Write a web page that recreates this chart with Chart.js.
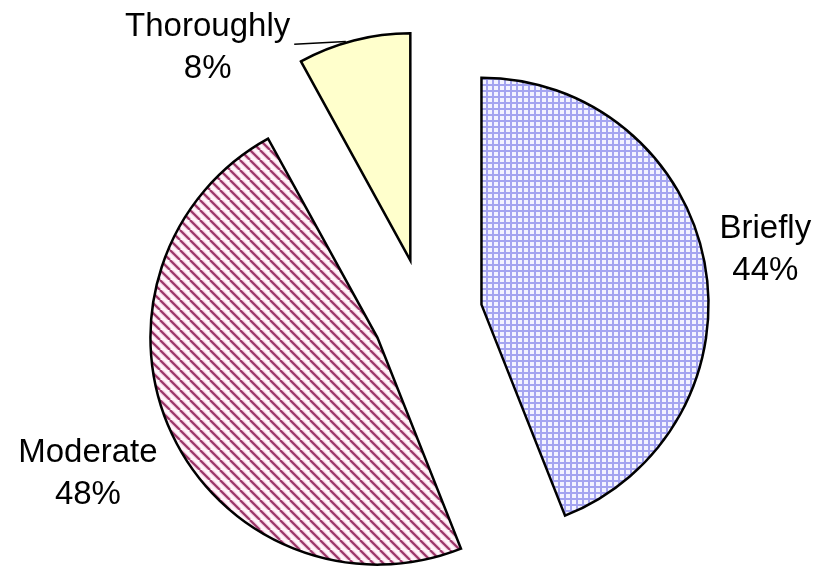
<!DOCTYPE html>
<html>
<head>
<meta charset="utf-8">
<script src="https://cdn.jsdelivr.net/npm/chart.js@4.4.1/dist/chart.umd.min.js"></script>
<style>
    html, body { margin: 0; padding: 0; background: #ffffff; }
    #wrap { position: relative; width: 817px; height: 566px; overflow: hidden; }
    #wrap canvas { position: absolute; left: 0; top: 0; }
</style>
</head>
<body>
<div id="wrap">
    <canvas id="pie0" width="817" height="566"></canvas>
    <canvas id="pie1" width="817" height="566"></canvas>
    <canvas id="pie2" width="817" height="566"></canvas>
</div>
<script>
// Pie data
const categories = ['Briefly', 'Moderate', 'Thoroughly'];
const shares = [44, 48, 8];

// Exploded layout: each slice gets its own canvas so it can be pulled out on its own
const W = 817, H = 566;
const PIE_X = 424.5, PIE_Y = 315.5;
const RADIUS = 227;
const explodePx = [58, 52, 57];
const labelGap = [62, 93, 29];                 // distance past the rim along the slice middle
const labelShift = [[0, -1], [0, 0], [-139, 36]];
const hasLeader = [false, false, true];
const FONT = '33px "Liberation Sans", Arial, sans-serif';
const LINE_H = 42;

// Fill patterns
function gridFill(ctx) {
    const t = document.createElement('canvas');
    t.width = t.height = 6;
    const g = t.getContext('2d');
    g.fillStyle = '#f3f3ff';
    g.fillRect(0, 0, 6, 6);
    g.fillStyle = '#a4a4f0';
    g.fillRect(0, 0, 6, 2);
    g.fillRect(0, 0, 2, 6);
    return ctx.createPattern(t, 'repeat');
}

function stripeFill(ctx) {
    const s = 10;
    const t = document.createElement('canvas');
    t.width = t.height = s;
    const g = t.getContext('2d');
    g.fillStyle = '#fff6fa';
    g.fillRect(0, 0, s, s);
    g.strokeStyle = '#f0c8dc';
    g.lineWidth = 4.2;
    g.beginPath();
    [-s, 0, s].forEach(k => { g.moveTo(k, 0); g.lineTo(k + s, s); });
    g.stroke();
    g.strokeStyle = '#993366';
    g.lineWidth = 2;
    g.stroke();
    return ctx.createPattern(t, 'repeat');
}

const fillMakers = [gridFill, stripeFill, () => '#ffffcc'];

// Draws the category name and percentage for one slice
function sliceLabel(i) {
    return {
        id: 'sliceLabel' + i,
        afterDatasetsDraw(chart) {
            const arc = chart.getDatasetMeta(0).data[i];
            const ctx = chart.ctx;
            const mid = (arc.startAngle + arc.endAngle) / 2;
            const dist = arc.outerRadius + labelGap[i];
            const x = arc.x + Math.cos(mid) * dist + labelShift[i][0];
            const y = arc.y + Math.sin(mid) * dist + labelShift[i][1];
            const line1 = categories[i];
            const line2 = shares[i] + '%';

            ctx.save();
            ctx.font = FONT;
            ctx.fillStyle = '#000000';
            ctx.textAlign = 'center';
            ctx.textBaseline = 'middle';
            ctx.fillText(line1, x, y - LINE_H / 2);
            ctx.fillText(line2, x, y + LINE_H / 2);

            if (hasLeader[i]) {
                const w = ctx.measureText(line1).width;
                const rimX = arc.x + Math.cos(mid) * arc.outerRadius;
                const rimY = arc.y + Math.sin(mid) * arc.outerRadius;
                ctx.strokeStyle = '#000000';
                ctx.lineWidth = 1.5;
                ctx.beginPath();
                ctx.moveTo(x + w / 2 + 4, y - LINE_H / 2 + 17);
                ctx.lineTo(rimX - 8, rimY + 1);
                ctx.stroke();
            }
            ctx.restore();
        }
    };
}

function buildSlice(i) {
    const canvas = document.getElementById('pie' + i);
    const ctx = canvas.getContext('2d');
    const total = shares.reduce((a, b) => a + b, 0);
    const before = shares.slice(0, i).reduce((a, b) => a + b, 0);
    const mid = (-90 + 360 * (before + shares[i] / 2) / total) * Math.PI / 180;
    const cx = PIE_X + Math.cos(mid) * explodePx[i];
    const cy = PIE_Y + Math.sin(mid) * explodePx[i];

    // chart area centred on this slice's own centre
    const padding = {
        left: Math.max(0, 2 * cx - W),
        right: Math.max(0, W - 2 * cx),
        top: Math.max(0, 2 * cy - H),
        bottom: Math.max(0, H - 2 * cy)
    };

    const fill = fillMakers[i](ctx);

    new Chart(ctx, {
        type: 'pie',
        data: {
            labels: categories,
            datasets: [{
                data: shares,
                backgroundColor: categories.map((_, j) => j === i ? fill : 'rgba(0,0,0,0)'),
                borderColor: '#000000',
                borderWidth: categories.map((_, j) => j === i ? 2.5 : 0),
                borderJoinStyle: 'miter',
                clip: false
            }]
        },
        options: {
            responsive: false,
            animation: false,
            events: [],
            radius: RADIUS,
            layout: { padding: padding },
            plugins: {
                legend: { display: false },
                tooltip: { enabled: false }
            }
        },
        plugins: [sliceLabel(i)]
    });
}

categories.forEach((_, i) => buildSlice(i));
</script>
</body>
</html>
